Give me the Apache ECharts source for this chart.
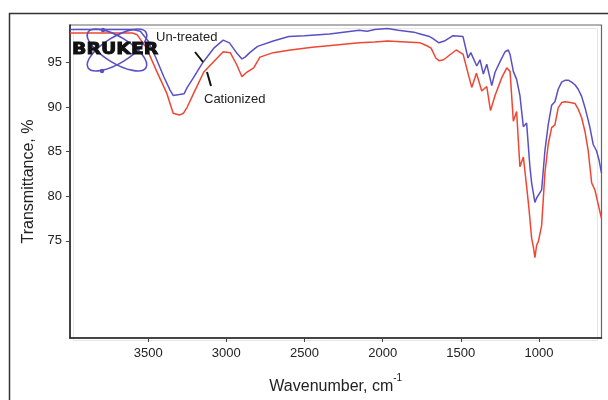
<!DOCTYPE html>
<html>
<head>
<meta charset="utf-8">
<script src="https://cdn.jsdelivr.net/npm/echarts@6/dist/echarts.min.js"></script>
<style>
html,body{margin:0;padding:0;background:#fff;}
#c{width:608px;height:400px;}
</style>
</head>
<body>
<div id="c"></div>
<script>
// Un-treated (blue) spectrum
const untreatedWn = [4000,3800,3600,3550,3500,3450,3400,3360,3340,3300,3270,3250,3210,3150,3080,3020,2980,2935,2900,2880,2850,2800,2700,2600,2500,2340,2250,2150,2100,2050,1970,1900,1800,1760,1700,1680,1640,1605,1550,1486,1454,1436,1398,1377,1356,1334,1302,1281,1249,1217,1196,1185,1164,1143,1122,1100,1079,1058,1047,1026,1015,1004,983,962,941,919,898,877,855,834,810,791,770,749,727,705,685,674,653,642,632,615,600];
const untreatedT  = [98.7,98.7,98.7,98.5,97.4,95.5,93.4,91.9,91.3,91.4,91.5,92.2,93.3,95.0,96.6,97.5,97.2,96.1,95.4,95.6,96.1,96.8,97.4,97.9,98.0,98.2,98.4,98.6,98.5,98.7,98.8,98.6,98.4,98.2,97.9,97.7,97.2,97.4,98.0,97.9,95.5,96.1,94.6,95.3,93.7,94.8,92.4,93.9,95.1,96.2,96.4,95.9,94.0,93.1,91.3,87.8,88.2,83.3,81.5,79.3,79.8,80.0,80.7,85.1,88.0,90.2,90.6,92.0,92.8,93.0,93.0,92.8,92.5,92.0,91.2,89.9,88.5,87.7,85.8,86.0,85.1,84.0,82.6];
// Cationized (red) spectrum
const cationizedWn = [4000,3800,3600,3570,3510,3445,3380,3340,3300,3275,3250,3210,3145,3080,3020,2975,2935,2900,2870,2825,2785,2700,2590,2450,2330,2150,2050,1970,1850,1760,1720,1690,1660,1640,1610,1530,1485,1460,1430,1400,1366,1334,1310,1281,1238,1206,1185,1164,1143,1122,1100,1079,1064,1047,1035,1026,1015,1004,983,962,941,919,898,877,855,834,800,770,750,727,705,685,663,642,620,600];
const cationizedT  = [98.3,98.3,98.3,98.1,96.6,94.0,91.5,89.3,89.1,89.3,90.0,91.5,93.9,95.1,96.2,96.1,94.8,93.4,93.9,94.4,95.6,96.1,96.4,96.7,96.9,97.2,97.3,97.4,97.3,97.2,96.9,96.6,95.5,95.2,95.3,96.4,95.9,94.2,92.2,93.8,91.8,92.3,89.6,91.3,93.3,94.4,94.0,88.4,89.5,83.3,84.4,81.1,78.6,75.3,74.2,73.1,74.5,74.9,76.7,82.6,85.8,87.7,88.0,89.9,90.5,90.6,90.5,90.4,89.8,88.8,87.2,85.1,81.5,80.7,79.0,77.5];
// Axis ticks
const xTicks = [3500,3000,2500,2000,1500,1000];
const yTicks = [75,80,85,90,95];
const seriesNames = ['Un-treated','Cationized'];

const pair = (xs, ys) => xs.map((x, i) => [x, ys[i]]);
const BLUE = '#5a50c4', RED = '#ef4634';
const FONT = '"Liberation Sans", Arial, sans-serif';

const chart = echarts.init(document.getElementById('c'), null, {renderer: 'canvas'});
chart.setOption({
  backgroundColor: '#fff',
  animation: false,
  grid: {left: 70, right: 6.5, top: 25, bottom: 55, show: true, borderColor: '#666', borderWidth: 1.2},
  xAxis: {
    type: 'value', inverse: true, min: 600, max: 4000,
    name: '{a|Wavenumber, cm}{s|-1}', nameLocation: 'middle', nameGap: 35,
    nameTextStyle: {rich: {a: {fontSize: 16, fontFamily: FONT, color: '#222', verticalAlign: 'bottom'}, s: {fontSize: 10, fontFamily: FONT, color: '#222', verticalAlign: 'top', padding: [0,0,12,0]}}},
    axisLine: {show: true, lineStyle: {color: '#222', width: 1.5}},
    axisTick: {show: true, customValues: xTicks, length: 4, lineStyle: {color: '#444'}},
    axisLabel: {customValues: xTicks, formatter: v => String(v), fontSize: 13, fontFamily: FONT, color: '#222', margin: 9},
    splitLine: {show: false}
  },
  yAxis: {
    type: 'value', min: 64.1, max: 99.2,
    name: 'Transmittance, %', nameLocation: 'middle', nameGap: 33,
    nameTextStyle: {fontSize: 16, fontFamily: FONT, color: '#222'},
    axisLine: {show: true, lineStyle: {color: '#222', width: 1.5}},
    axisTick: {show: true, customValues: yTicks, length: 4, lineStyle: {color: '#444'}},
    axisLabel: {customValues: yTicks, formatter: v => String(v), fontSize: 13, fontFamily: FONT, color: '#222', margin: 8},
    splitLine: {show: false}
  },
  series: [
    {name: seriesNames[0], type: 'line', data: pair(untreatedWn, untreatedT), showSymbol: false, lineStyle: {color: BLUE, width: 1.5}, itemStyle: {color: BLUE}, z: 3},
    {name: seriesNames[1], type: 'line', data: pair(cationizedWn, cationizedT), showSymbol: false, lineStyle: {color: RED, width: 1.5}, itemStyle: {color: RED}, z: 2}
  ],
  graphic: [
    {type: 'rect', silent: true, z: -1, shape: {x: 9.5, y: 13.5, width: 700, height: 500}, style: {fill: 'none', stroke: '#333', lineWidth: 1.5}},
    {type: 'rect', silent: true, z: -1, shape: {x: 73.5, y: 28.5, width: 524, height: 312}, style: {fill: 'none', stroke: '#e6e6e6', lineWidth: 1}},
    {type: 'ellipse', silent: true, x: 117, y: 50, rotation: 0.55, shape: {cx: 0, cy: 0, rx: 34, ry: 13}, style: {fill: 'none', stroke: BLUE, lineWidth: 1.6}, z: 10},
    {type: 'ellipse', silent: true, x: 117, y: 50, rotation: -0.55, shape: {cx: 0, cy: 0, rx: 34, ry: 13}, style: {fill: 'none', stroke: BLUE, lineWidth: 1.6}, z: 10},
    {type: 'circle', silent: true, shape: {cx: 103, cy: 30, r: 2.2}, style: {fill: BLUE}, z: 10},
    {type: 'circle', silent: true, shape: {cx: 102, cy: 71, r: 2.2}, style: {fill: BLUE}, z: 10},
    {type: 'text', silent: true, x: 72, y: 50, scaleX: 1.18, style: {text: 'BRUKER', font: '900 16px "DejaVu Sans", sans-serif', fill: '#111', stroke: '#111', lineWidth: 0.9, textVerticalAlign: 'middle'}, z: 11},
    {type: 'text', silent: true, x: 156, y: 37, style: {text: 'Un-treated', font: '13px "Liberation Sans", Arial, sans-serif', fill: '#222', textVerticalAlign: 'middle'}, z: 11},
    {type: 'text', silent: true, x: 204, y: 99, style: {text: 'Cationized', font: '13px "Liberation Sans", Arial, sans-serif', fill: '#222', textVerticalAlign: 'middle'}, z: 11},
    {type: 'line', silent: true, shape: {x1: 195, y1: 52, x2: 203, y2: 62}, style: {stroke: '#111', lineWidth: 2}, z: 11},
    {type: 'line', silent: true, shape: {x1: 207, y1: 72, x2: 211, y2: 86}, style: {stroke: '#111', lineWidth: 2}, z: 11}
  ]
});
</script>
</body>
</html>
